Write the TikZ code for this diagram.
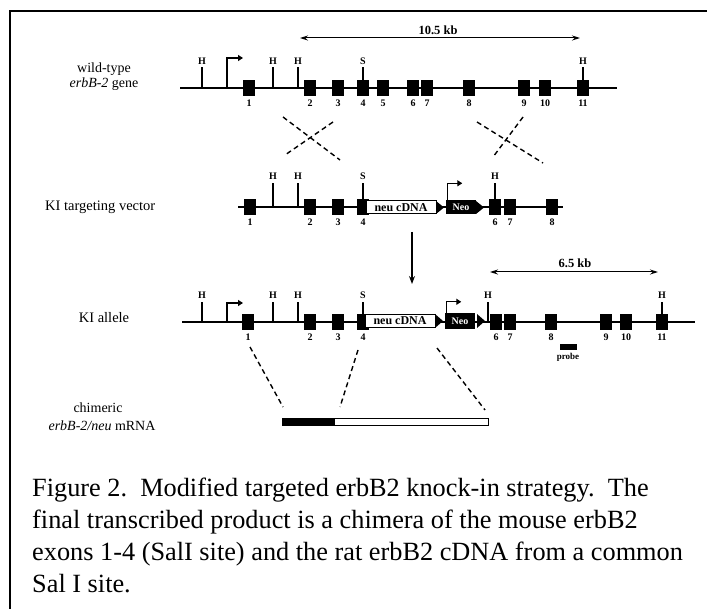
\documentclass[tikz,border=0pt]{standalone}
\usepackage{fontspec}
\setmainfont{Liberation Serif}
\usetikzlibrary{arrows.meta}
\begin{document}
\begin{tikzpicture}[x=1pt,y=-1pt,
  exon/.style={fill=black, minimum width=11.5pt, minimum height=16pt, inner sep=0pt, outer sep=0pt},
  small/.style={font=\bfseries\fontsize{10}{10}\selectfont, inner sep=0pt, anchor=base},
  dna/.style={line width=1.3pt},
  tick/.style={line width=1.2pt},
  prom/.style={line width=1.2pt, -{Triangle[length=5pt,width=6pt]}},
  cross/.style={line width=1.4pt, dash pattern=on 5pt off 3.5pt},
  span/.style={line width=1pt, {Stealth[length=8pt,width=5pt]}-{Stealth[length=8pt,width=5pt]}},
  rowlabel/.style={font=\fontsize{14}{14}\selectfont, inner sep=0pt},
  cdna/.style={draw, fill=white, line width=1pt, minimum width=70pt, minimum height=13pt, inner sep=0pt,
    font=\bfseries\fontsize{12}{12}\selectfont},
  neobox/.style={fill=black, text=white, minimum width=30pt, minimum height=14pt, inner sep=0pt,
    font=\bfseries\fontsize{10}{10}\selectfont},
  caption/.style={font=\fontsize{26.3}{32}\selectfont, inner sep=0pt, anchor=base west}
]
\useasboundingbox (0,0) rectangle (707,609);

% frame
\draw[line width=2pt] (707,11) -- (10,11) -- (10,609);

% ---------------- wild-type gene ----------------
\node[rowlabel, anchor=base] (wt1) at (104,73) {wild-type};
\node[rowlabel, anchor=base] (wt2) at (104,88) {\textit{erbB-2} gene};
\coordinate (aL) at (180,88);
\coordinate (aR) at (617,88);
\draw[dna] (aL) -- (aR);
\foreach \n/\x in {1/249,2/310,3/338,4/363,5/383,6/413,7/427,8/469,9/524,10/545,11/583}{
  \node[exon] (a\n) at (\x,88) {};
  \node[small] (an\n) at (\x,107) {\n};
}
\foreach \s/\l/\x in {1/H/202,2/H/273,3/H/298}{
  \node[small] (as\s) at (\x,65) {\l};
  \draw[tick] ([yshift=-2pt]as\s.south) -- (as\s.south |- aL);
}
\node[small] (as4) at (363,65) {S};
\draw[tick] ([yshift=-2pt]as4.south) -- (as4.south |- a4.north);
\node[small] (as5) at (583,65) {H};
\draw[tick] ([yshift=-2pt]as5.south) -- (as5.south |- a11.north);
\coordinate (ap) at (227,88);
\draw[prom] (ap) |- ++(16,-30);
% 10.5 kb span
\coordinate (kb1L) at (300,38);
\coordinate (kb1R) at (580,38);
\draw[span] (kb1L) -- (kb1R);
\node[font=\bfseries\fontsize{12.5}{12.5}\selectfont, inner sep=0pt, anchor=base] (kb1) at (438,35) {10.5 kb};

% crossovers
\coordinate (x1a) at (283,117); \coordinate (x1b) at (340,160);
\coordinate (x1c) at (333,122); \coordinate (x1d) at (285,155);
\draw[cross] (x1a) -- (x1b);
\draw[cross] (x1c) -- (x1d);
\coordinate (x2a) at (477,122); \coordinate (x2b) at (543,163);
\coordinate (x2c) at (523,117); \coordinate (x2d) at (493,157);
\draw[cross] (x2a) -- (x2b);
\draw[cross] (x2c) -- (x2d);

% ---------------- targeting vector ----------------
\node[rowlabel, font=\fontsize{14.5}{14.5}\selectfont, anchor=base west] (tv) at (45,211) {KI targeting vector};
\coordinate (bL) at (238,207);
\coordinate (bR) at (563,207);
\draw[dna] (bL) -- (bR);
\foreach \n/\x in {1/250,2/310,3/338,4/363,6/495,7/510,8/552}{
  \node[exon] (b\n) at (\x,207) {};
  \node[small] (bn\n) at (\x,226) {\n};
}
\foreach \s/\x in {1/273,2/298}{
  \node[small] (bs\s) at (\x,180) {H};
  \draw[tick] ([yshift=-3pt]bs\s.south) -- (bs\s.south |- bL);
}
\node[small] (bs3) at (363,180) {S};
\draw[tick] ([yshift=-3pt]bs3.south) -- (bs3.south |- b4.north);
\node[small] (bs4) at (495,180) {H};
\draw[tick] ([yshift=-3pt]bs4.south) -- (bs4.south |- b6.north);
\node[cdna] (bc) at (401,207.5) {neu cDNA};
\fill (436,201) -- (444,207.5) -- (436,214) -- cycle;
\node[neobox] (bneo) at (461,207.5) {Neo};
\fill (476,201) -- (484,207.5) -- (476,214) -- cycle;
\draw[prom] ([xshift=1.5pt]bneo.north west) |- ++(15,-17);

% arrow to allele
\coordinate (v1) at (412,232);
\coordinate (v2) at (412,284);
\draw[line width=1.2pt, -{Stealth[length=8pt,width=6pt]}] (v1) -- (v2);

% 6.5 kb span
\coordinate (kb2L) at (490,272);
\coordinate (kb2R) at (658,272);
\draw[span] (kb2L) -- (kb2R);
\node[font=\bfseries\fontsize{12.5}{12.5}\selectfont, inner sep=0pt, anchor=base] (kb2) at (575,268) {6.5 kb};

% ---------------- KI allele ----------------
\node[rowlabel, font=\fontsize{14.5}{14.5}\selectfont, anchor=base] (ka) at (104,323) {KI allele};
\coordinate (cL) at (182,322);
\coordinate (cR) at (695,322);
\draw[dna] (cL) -- (cR);
\foreach \n/\x in {1/248,2/310,3/338,4/363,6/496,7/510,8/551,9/606,10/626,11/662}{
  \node[exon] (c\n) at (\x,322) {};
  \node[small] (cn\n) at (\x,341) {\n};
}
\foreach \s/\x in {1/202,2/273,3/298,5/488}{
  \node[small] (cs\s) at (\x,299) {H};
  \draw[tick] ([yshift=-3pt]cs\s.south) -- (cs\s.south |- cL);
}
\node[small] (cs4) at (363,299) {S};
\draw[tick] ([yshift=-3pt]cs4.south) -- (cs4.south |- c4.north);
\node[small] (cs6) at (662,299) {H};
\draw[tick] ([yshift=-3pt]cs6.south) -- (cs6.south |- c11.north);
\coordinate (cp) at (227,322);
\draw[prom] (cp) |- ++(16,-19);
\node[cdna] (cc) at (400,321) {neu cDNA};
\fill (435,314) -- (443,321) -- (435,328) -- cycle;
\node[neobox, minimum height=16pt] (cneo) at (460,321) {Neo};
\fill (477,314) -- (485,321) -- (477,328) -- cycle;
\draw[prom] ([xshift=1.5pt]cneo.north west) |- ++(15,-11);
% probe
\node[fill=black, minimum width=17pt, minimum height=6pt, inner sep=0pt] (probe) at (568,347) {};
\node[font=\bfseries\fontsize{9}{9}\selectfont, inner sep=0pt, anchor=base] (probel) at (568,360) {probe};

% ---------------- chimeric mRNA ----------------
\node[rowlabel, anchor=base] (m1) at (98,413) {chimeric};
\node[rowlabel, anchor=base] (m2) at (102,431) {\textit{erbB-2/neu} mRNA};
\node[draw, fill=white, line width=1pt, minimum width=154pt, minimum height=7pt, inner sep=0pt, anchor=west] (mw) at (334,422) {};
\node[fill=black, minimum width=52pt, minimum height=8pt, inner sep=0pt, anchor=west] (mb) at (282,422) {};
\coordinate (d1a) at (250,347); \coordinate (d1b) at (283,407);
\coordinate (d2a) at (358,350); \coordinate (d2b) at (340,407);
\coordinate (d3a) at (437,348); \coordinate (d3b) at (485,410);
\draw[cross] (d1a) -- (d1b);
\draw[cross] (d2a) -- (d2b);
\draw[cross] (d3a) -- (d3b);

% ---------------- caption ----------------
\node[caption] (cap1) at (32,496) {Figure 2.\ \ Modified targeted erbB2 knock-in strategy.\ \ The};
\node[caption] (cap2) at (32,528) {final transcribed product is a chimera of the mouse erbB2};
\node[caption] (cap3) at (32,560) {exons 1-4 (SalI site) and the rat erbB2 cDNA from a common};
\node[caption] (cap4) at (32,592) {Sal I site.};
\end{tikzpicture}
\end{document}
